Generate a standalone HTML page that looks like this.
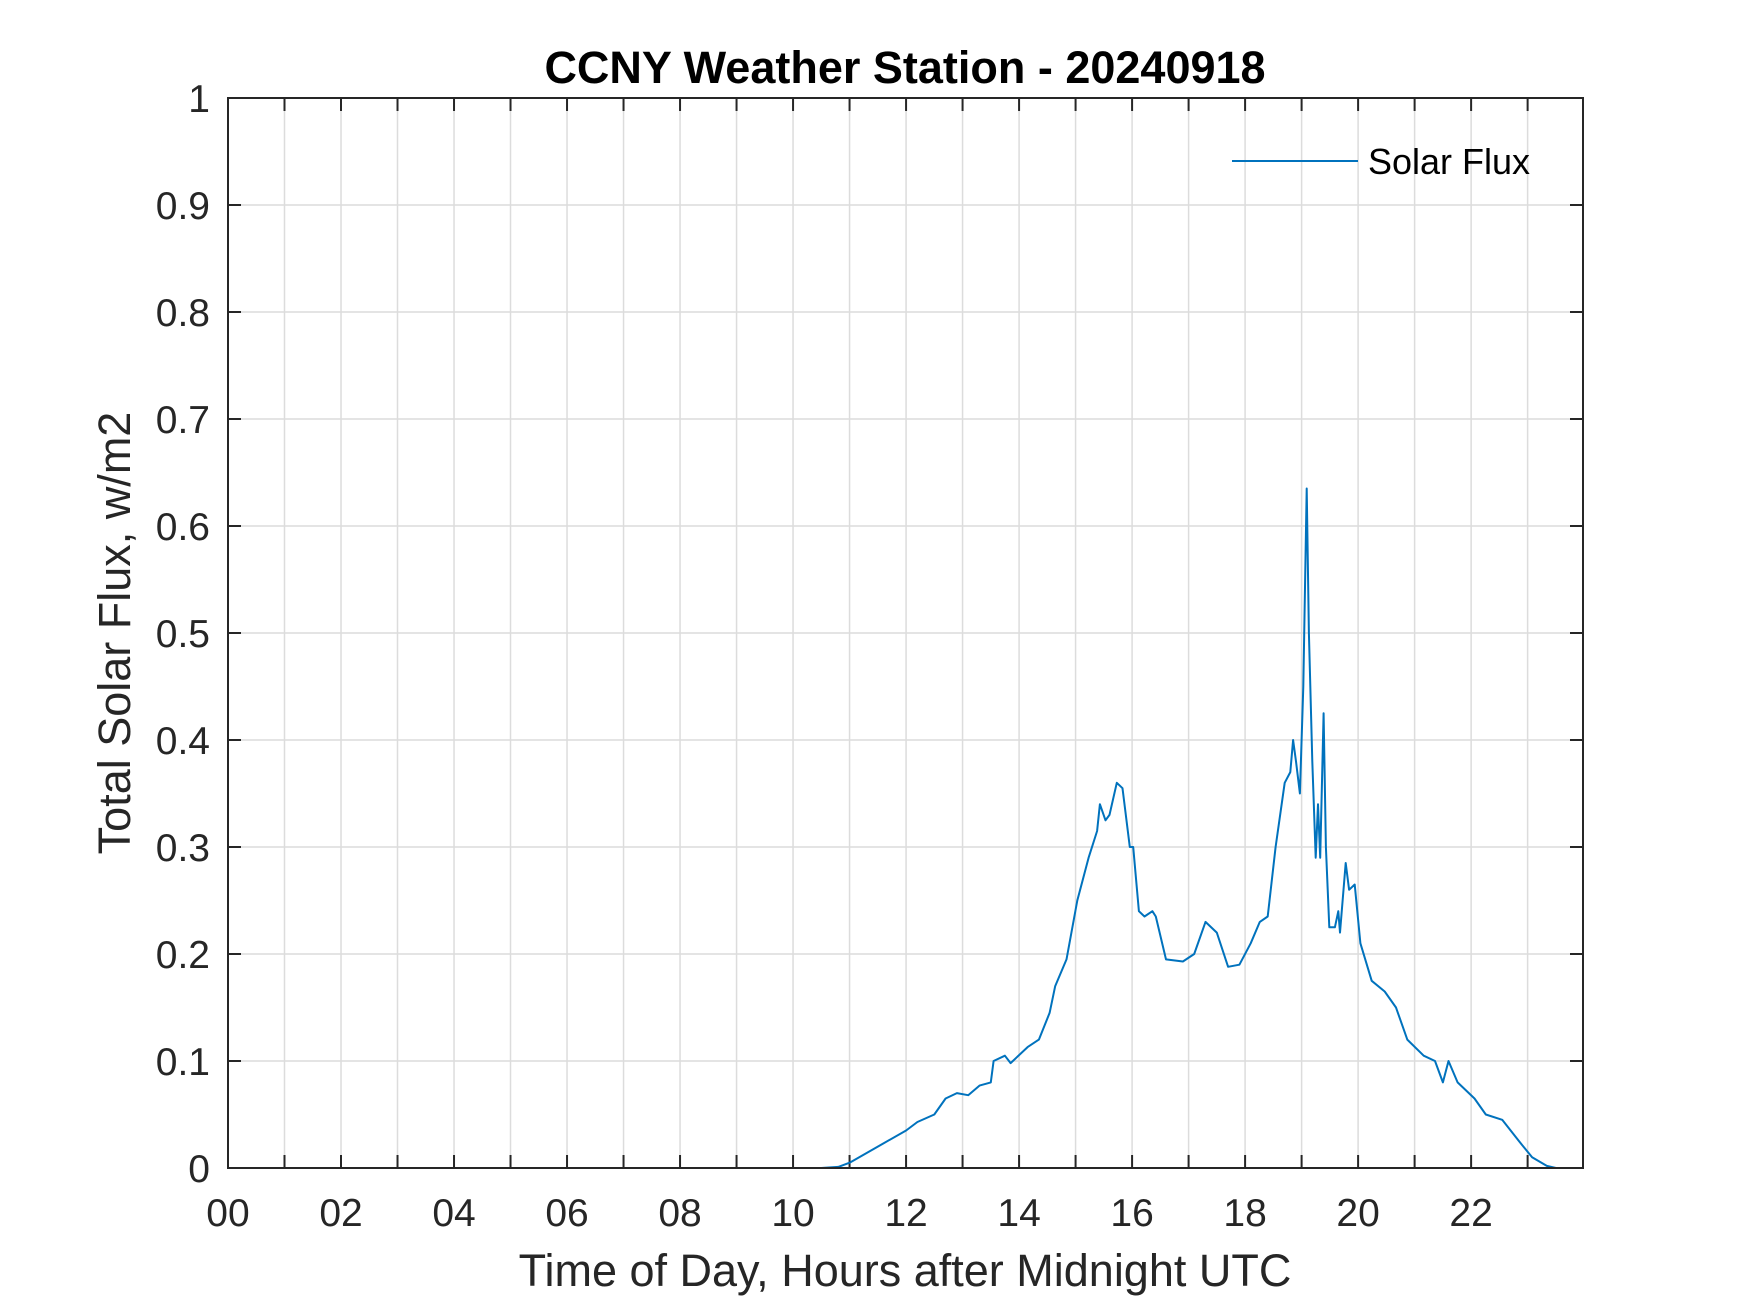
<!DOCTYPE html>
<html><head><meta charset="utf-8"><style>
html,body{margin:0;padding:0;background:#fff;}
svg{display:block;font-family:"Liberation Sans",Arial,sans-serif;}
</style></head><body>
<svg id="chart" width="1750" height="1313" viewBox="0 0 1750 1313" xmlns="http://www.w3.org/2000/svg">
<rect width="1750" height="1313" fill="#fff"/>
<g id="grid"></g>
<g id="ticks"></g>
<polyline id="series" fill="none" stroke="#0072BD" stroke-width="2" stroke-linejoin="round"/>
<rect x="228" y="98" width="1355" height="1070" fill="none" stroke="#262626" stroke-width="2"/>
<text x="905" y="83" text-anchor="middle" font-size="45" font-weight="bold" fill="#000">CCNY Weather Station - 20240918</text>
<text x="905" y="1286" text-anchor="middle" font-size="45" fill="#262626">Time of Day, Hours after Midnight UTC</text>
<text transform="translate(130,633) rotate(-90)" text-anchor="middle" font-size="45" fill="#262626">Total Solar Flux, w/m2</text>
<g>
<line x1="1232" y1="161" x2="1358" y2="161" stroke="#0072BD" stroke-width="2"/>
<text x="1368" y="174" font-size="36" fill="#000">Solar Flux</text>
</g>
</svg>
<script>
const hours = [0,10.5,10.8,11,11.5,12,12.2,12.5,12.7,12.9,13.1,13.3,13.5,13.55,13.75,13.85,14.15,14.35,14.54,14.64,14.84,15.03,15.23,15.38,15.43,15.53,15.6,15.73,15.83,15.96,16.02,16.12,16.22,16.36,16.42,16.6,16.9,17.1,17.3,17.5,17.7,17.9,18.1,18.26,18.4,18.54,18.7,18.8,18.85,18.9,18.97,19.03,19.09,19.13,19.19,19.25,19.29,19.33,19.39,19.43,19.49,19.59,19.65,19.68,19.78,19.84,19.94,20.04,20.24,20.47,20.67,20.87,21.16,21.36,21.5,21.6,21.76,22.06,22.26,22.55,22.85,23.08,23.34,23.5,23.98];
const flux = [0,0,0.001,0.005,0.02,0.035,0.043,0.05,0.065,0.07,0.068,0.077,0.08,0.1,0.105,0.098,0.113,0.12,0.145,0.17,0.195,0.25,0.29,0.315,0.34,0.325,0.33,0.36,0.355,0.3,0.3,0.24,0.235,0.24,0.235,0.195,0.193,0.2,0.23,0.22,0.188,0.19,0.21,0.23,0.235,0.3,0.36,0.37,0.4,0.38,0.35,0.45,0.635,0.5,0.38,0.29,0.34,0.29,0.425,0.3,0.225,0.225,0.24,0.22,0.285,0.26,0.265,0.21,0.175,0.165,0.15,0.12,0.105,0.1,0.08,0.1,0.08,0.065,0.05,0.045,0.025,0.01,0.002,0,0];
const xTickLabels = ["00","02","04","06","08","10","12","14","16","18","20","22"];
const yTickLabels = ["0","0.1","0.2","0.3","0.4","0.5","0.6","0.7","0.8","0.9","1"];
const X0=228,X1=1583,Y0=1168,Y1=98,XMAX=23.98;
const sx=h=>X0+(h/XMAX)*(X1-X0);
const sy=v=>Y0-(v/1)*(Y0-Y1);
const NS="http://www.w3.org/2000/svg";
const grid=document.getElementById('grid'),ticks=document.getElementById('ticks');
function mk(tag,attrs,parent){const e=document.createElementNS(NS,tag);for(const k in attrs)e.setAttribute(k,attrs[k]);parent.appendChild(e);return e;}
for(let h=1;h<24;h++){
  const x=sx(h);
  const g=mk('line',{x1:x,y1:Y1,x2:x,y2:Y0,stroke:'#dcdcdc','stroke-width':1.5},grid);
  
  
  const t1=mk('line',{x1:x,y1:Y0,x2:x,y2:Y0-13,stroke:'#262626','stroke-width':2},ticks);
  
  
  const t2=mk('line',{x1:x,y1:Y1,x2:x,y2:Y1+13,stroke:'#262626','stroke-width':2},ticks);
  
  
}
xTickLabels.forEach((lab,i)=>{
  const t=mk('text',{x:sx(i*2),y:Y0+58,'text-anchor':'middle','font-size':39,fill:'#262626'},ticks);
  t.textContent=lab;
  
  
});
yTickLabels.forEach((lab,i)=>{
  const v=parseFloat(lab),y=sy(v);
  if(i>0&&i<yTickLabels.length-1){
    const g=mk('line',{x1:X0,y1:y,x2:X1,y2:y,stroke:'#dcdcdc','stroke-width':1.5},grid);
    
    
  }
  const a=mk('line',{x1:X0,y1:y,x2:X0+13,y2:y,stroke:'#262626','stroke-width':2},ticks);
  
  
  const b=mk('line',{x1:X1,y1:y,x2:X1-13,y2:y,stroke:'#262626','stroke-width':2},ticks);
  
  
  const t=mk('text',{x:X0-18,y:y+14,'text-anchor':'end','font-size':39,fill:'#262626'},ticks);
  t.textContent=lab;
  
  
});
document.getElementById('series').setAttribute('points',hours.map((h,i)=>sx(h).toFixed(1)+','+sy(flux[i]).toFixed(1)).join(' '));
</script>
</body></html>
